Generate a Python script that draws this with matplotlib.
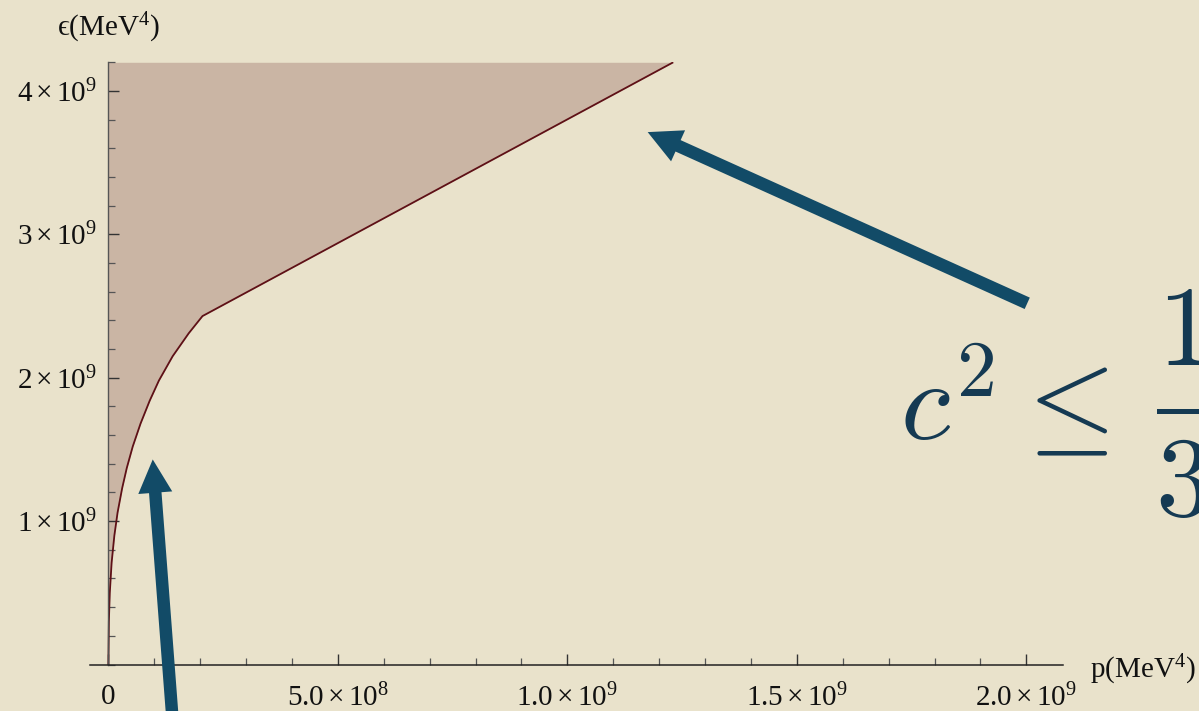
import numpy as np
import matplotlib
matplotlib.use("Agg")
import matplotlib.pyplot as plt
from matplotlib.patches import FancyArrowPatch, ArrowStyle, Rectangle
from matplotlib.ticker import MultipleLocator, FixedLocator

plt.rcParams["font.family"] = ["Liberation Serif", "DejaVu Serif"]
plt.rcParams["mathtext.fontset"] = "custom"
plt.rcParams["mathtext.rm"] = "Liberation Serif"
plt.rcParams["mathtext.it"] = "Liberation Serif:italic"

# boundary of the allowed region: pressure p vs energy density eps (MeV^4)
p_vals = [0.0, 0.001e9, 0.003e9, 0.007e9, 0.013e9, 0.020e9, 0.030e9,
          0.040e9, 0.053e9, 0.070e9, 0.090e9, 0.110e9, 0.140e9,
          0.175e9, 0.205e9, 1.229e9]
eps_vals = [0.0, 0.30e9, 0.50e9, 0.71e9, 0.90e9, 1.06e9, 1.23e9,
            1.37e9, 1.52e9, 1.68e9, 1.84e9, 1.98e9, 2.15e9,
            2.31e9, 2.43e9, 4.197e9]

eps_top = 4.2e9
x_major = [0, 0.5e9, 1.0e9, 1.5e9, 2.0e9]
x_labels = ["0", r"$5.0\times10^{8}$", r"$1.0\times10^{9}$",
            r"$1.5\times10^{9}$", r"$2.0\times10^{9}$"]
y_major = [1e9, 2e9, 3e9, 4e9]
y_labels = [r"$1\times10^{9}$", r"$2\times10^{9}$",
            r"$3\times10^{9}$", r"$4\times10^{9}$"]

bg = "#E9E2CB"
fill_col = "#CAB5A4"
curve_col = "#5E1016"
arrow_col = "#124B67"
text_col = "#153A53"

W, H = 1199, 711
fig = plt.figure(figsize=(W / 100, H / 100), dpi=100, facecolor=bg)
ax = fig.add_axes([0.0751, 0.0654, 0.8115, 0.847])
ax.set_facecolor(bg)

ax.fill_between(p_vals, eps_vals, eps_top, color=fill_col, lw=0, zorder=1)
ax.plot(p_vals, eps_vals, color=curve_col, lw=1.3, zorder=2)

ax.set_xlim(-0.04e9, 2.08e9)
ax.set_ylim(0, eps_top)

for s in ["top", "right"]:
    ax.spines[s].set_visible(False)
ax.spines["left"].set_position(("data", 0))
ax.spines["bottom"].set_position(("data", 0))
ax.spines["left"].set_color("#555555")
ax.spines["bottom"].set_color("#222222")
ax.spines["left"].set_linewidth(1.0)
ax.spines["bottom"].set_linewidth(1.1)

ax.xaxis.set_major_locator(FixedLocator(x_major))
ax.set_xticklabels(x_labels)
ax.xaxis.set_minor_locator(MultipleLocator(1e8))
ax.yaxis.set_major_locator(FixedLocator(y_major))
ax.set_yticklabels(y_labels)
ax.yaxis.set_minor_locator(MultipleLocator(2e8))

ax.tick_params(which="both", direction="in", colors="#333333", labelcolor="#111111")
ax.tick_params(which="major", length=8, width=1.0, labelsize=21)
ax.tick_params(which="minor", length=5, width=0.9, color="#555555")
ax.tick_params(axis="y", pad=8)
ax.tick_params(axis="x", pad=14)

fig.text(57 / W, 1 - 28 / H, "\u03f5(MeV$^4$)", fontsize=21,
         ha="left", va="center", color="#111111")
fig.text(1090 / W, 1 - 670 / H, "p(MeV$^4$)", fontsize=21,
         ha="left", va="center", color="#111111")

style = ArrowStyle.Simple(head_length=24, head_width=24.5, tail_width=9)
for tail, tip in [((2.002e9, 2.519e9), (1.175e9, 3.713e9)),
                  ((0.1415e9, -0.456e9), (0.0966e9, 1.43e9))]:
    arr = FancyArrowPatch(tail, tip, arrowstyle=style, mutation_scale=1,
                          shrinkA=0, shrinkB=0, color=arrow_col, lw=0,
                          clip_on=False, zorder=5)
    ax.add_patch(arr)

# sound-speed bound, set as a display-style formula (runs off the right edge)
big = dict(fontsize=82, color=text_col, math_fontfamily="cm", va="baseline")
fig.text(900 / W, 1 - 440 / H, r"$c^2$", ha="left", **big)
fig.text(1008 / W, 1 - 440 / H, r"$\leq$", ha="left", **big)
fig.text(1182 / W, 1 - 365 / H, r"$1$", ha="center", **big)
fig.text(1182 / W, 1 - 516 / H, r"$3$", ha="center", **big)
fig.add_artist(Rectangle((1157 / W, 1 - 414 / H), 80 / W, 5 / H,
                         transform=fig.transFigure, color=text_col, lw=0))

fig.savefig("out.png", dpi=100, facecolor=bg)
